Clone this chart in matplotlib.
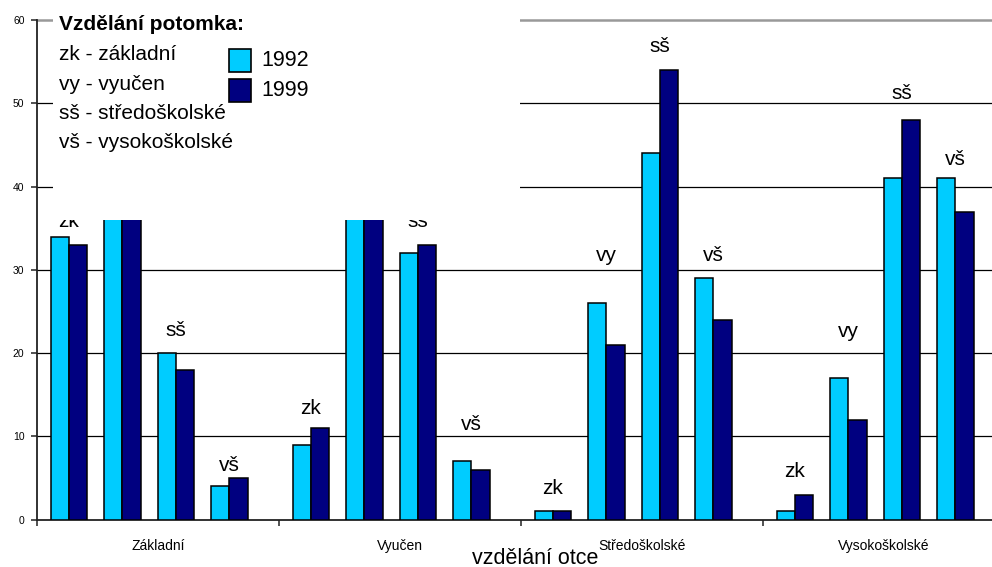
import matplotlib
matplotlib.use("Agg")
import matplotlib.pyplot as plt
from matplotlib.patches import Rectangle

plt.rcParams['font.family'] = ['Liberation Sans', 'DejaVu Sans']

# Father's education (x groups) and child's education codes (bars within a group)
father_edu = ["Základní", "Vyučen", "Středoškolské", "Vysokoškolské"]
child_codes = ["zk", "vy", "sš", "vš"]
code_meanings = ["zk - základní", "vy - vyučen", "sš - středoškolské", "vš - vysokoškolské"]
years = ["1992", "1999"]

# Share of children (%) by child's education, one row per father's education
share_1992 = [[34, 42, 20, 4],
              [9, 52, 32, 7],
              [1, 26, 44, 29],
              [1, 17, 41, 41]]
share_1999 = [[33, 44, 18, 5],
              [11, 50, 33, 6],
              [1, 21, 54, 24],
              [3, 12, 48, 37]]

y_ticks = [0, 10, 20, 30, 40, 50, 60]

# ---- layout -------------------------------------------------------------
W, H = 992, 567
COL_1992 = "#00CCFF"
COL_1999 = "#000080"
FIRST_OFF = 0.0566   # gap from group start to first pair (group width = 1)
PAIR_STEP = 0.2207   # distance between pairs in a group
BAR_W = 0.0756
PANEL_LEFT, PANEL_RIGHT, PANEL_BOTTOM = 53, 520, 220   # legend panel, px from top-left
# code labels: lift above the taller bar of the pair, in pixels
label_lift = [[10, 17, 17.5, 7.5],
              [14.5, 17, 17.5, 31.5],
              [17, 42, 17.5, 17],
              [18, 41, 21, 13.5]]


def fx(px):
    return px / W


def fy(py):
    return 1 - py / H


fig = plt.figure(figsize=(W / 100, H / 100), dpi=100)
ax = fig.add_axes([fx(37), fy(519.7), 968 / W, 499.7 / H])
ax.set_xlim(0, len(father_edu))
ax.set_ylim(y_ticks[0], y_ticks[-1])

for g in range(len(father_edu)):
    for s in range(len(child_codes)):
        x0 = g + FIRST_OFF + s * PAIR_STEP
        v92 = share_1992[g][s]
        v99 = share_1999[g][s]
        ax.bar(x0, v92, width=BAR_W, align='edge', color=COL_1992,
               edgecolor='black', linewidth=1.1, zorder=3)
        ax.bar(x0 + BAR_W, v99, width=BAR_W, align='edge', color=COL_1999,
               edgecolor='black', linewidth=1.1, zorder=3)
        top = max(v92, v99)
        # skip labels that would sit entirely behind the legend panel
        dx, dy = ax.transData.transform((x0 + BAR_W, top))
        base_from_top = H - (dy + label_lift[g][s])
        if dx < PANEL_RIGHT and base_from_top < PANEL_BOTTOM - 4:
            continue
        ax.annotate(child_codes[s], xy=(x0 + BAR_W, top),
                    xytext=(0, label_lift[g][s]), textcoords='offset pixels',
                    ha='center', va='baseline', fontsize=15, zorder=4)

# horizontal gridlines
for t in y_ticks[1:-1]:
    ax.axhline(t, color='black', linewidth=0.9, zorder=1)
ax.axhline(y_ticks[-1], color='#999999', linewidth=1.8, zorder=1, clip_on=False)

for side in ('top', 'right'):
    ax.spines[side].set_visible(False)
ax.spines['left'].set_color('#222222')
ax.spines['left'].set_linewidth(1.3)
ax.spines['bottom'].set_color('#222222')
ax.spines['bottom'].set_linewidth(1.3)

ax.set_yticks(y_ticks)
ax.set_yticklabels([str(t) for t in y_ticks])
ax.tick_params(axis='y', direction='out', length=4, width=1.1, pad=5,
               labelsize=7.5, color='#222222')

ax.set_xticks(range(len(father_edu) + 1))
ax.set_xticklabels([])
ax.set_xticks([g + 0.5 for g in range(len(father_edu))], minor=True)
ax.set_xticklabels(father_edu, minor=True)
ax.tick_params(axis='x', which='major', direction='out', length=4, width=1.1,
               color='#222222')
ax.tick_params(axis='x', which='minor', length=0, pad=14, labelsize=10)

fig.text(fx(535), fy(558), "vzdělání otce", ha='center', va='center',
         fontsize=15.5)

# legend panel sitting over the upper-left part of the plot
fig.patches.append(Rectangle((fx(PANEL_LEFT), fy(PANEL_BOTTOM)),
                             (PANEL_RIGHT - PANEL_LEFT) / W, PANEL_BOTTOM / H,
                             transform=fig.transFigure, facecolor='white',
                             edgecolor='none', zorder=5))
fig.text(fx(59), fy(29.5), "Vzdělání potomka:", fontsize=15, fontweight='bold',
         ha='left', va='baseline', zorder=6)
for i, line in enumerate(code_meanings):
    fig.text(fx(59), fy(60 + 29.5 * i), line, fontsize=15, ha='left',
             va='baseline', zorder=6)

for i, (yr, col) in enumerate(zip(years, [COL_1992, COL_1999])):
    top = 49 + 30 * i
    fig.patches.append(Rectangle((fx(229), fy(top + 23)), 22 / W, 23 / H,
                                 transform=fig.transFigure, facecolor=col,
                                 edgecolor='black', linewidth=1.2, zorder=6))
    fig.text(fx(261), fy(top + 11.5), yr, fontsize=15.5, ha='left',
             va='center', zorder=6)

fig.savefig("out.png", dpi=100)
